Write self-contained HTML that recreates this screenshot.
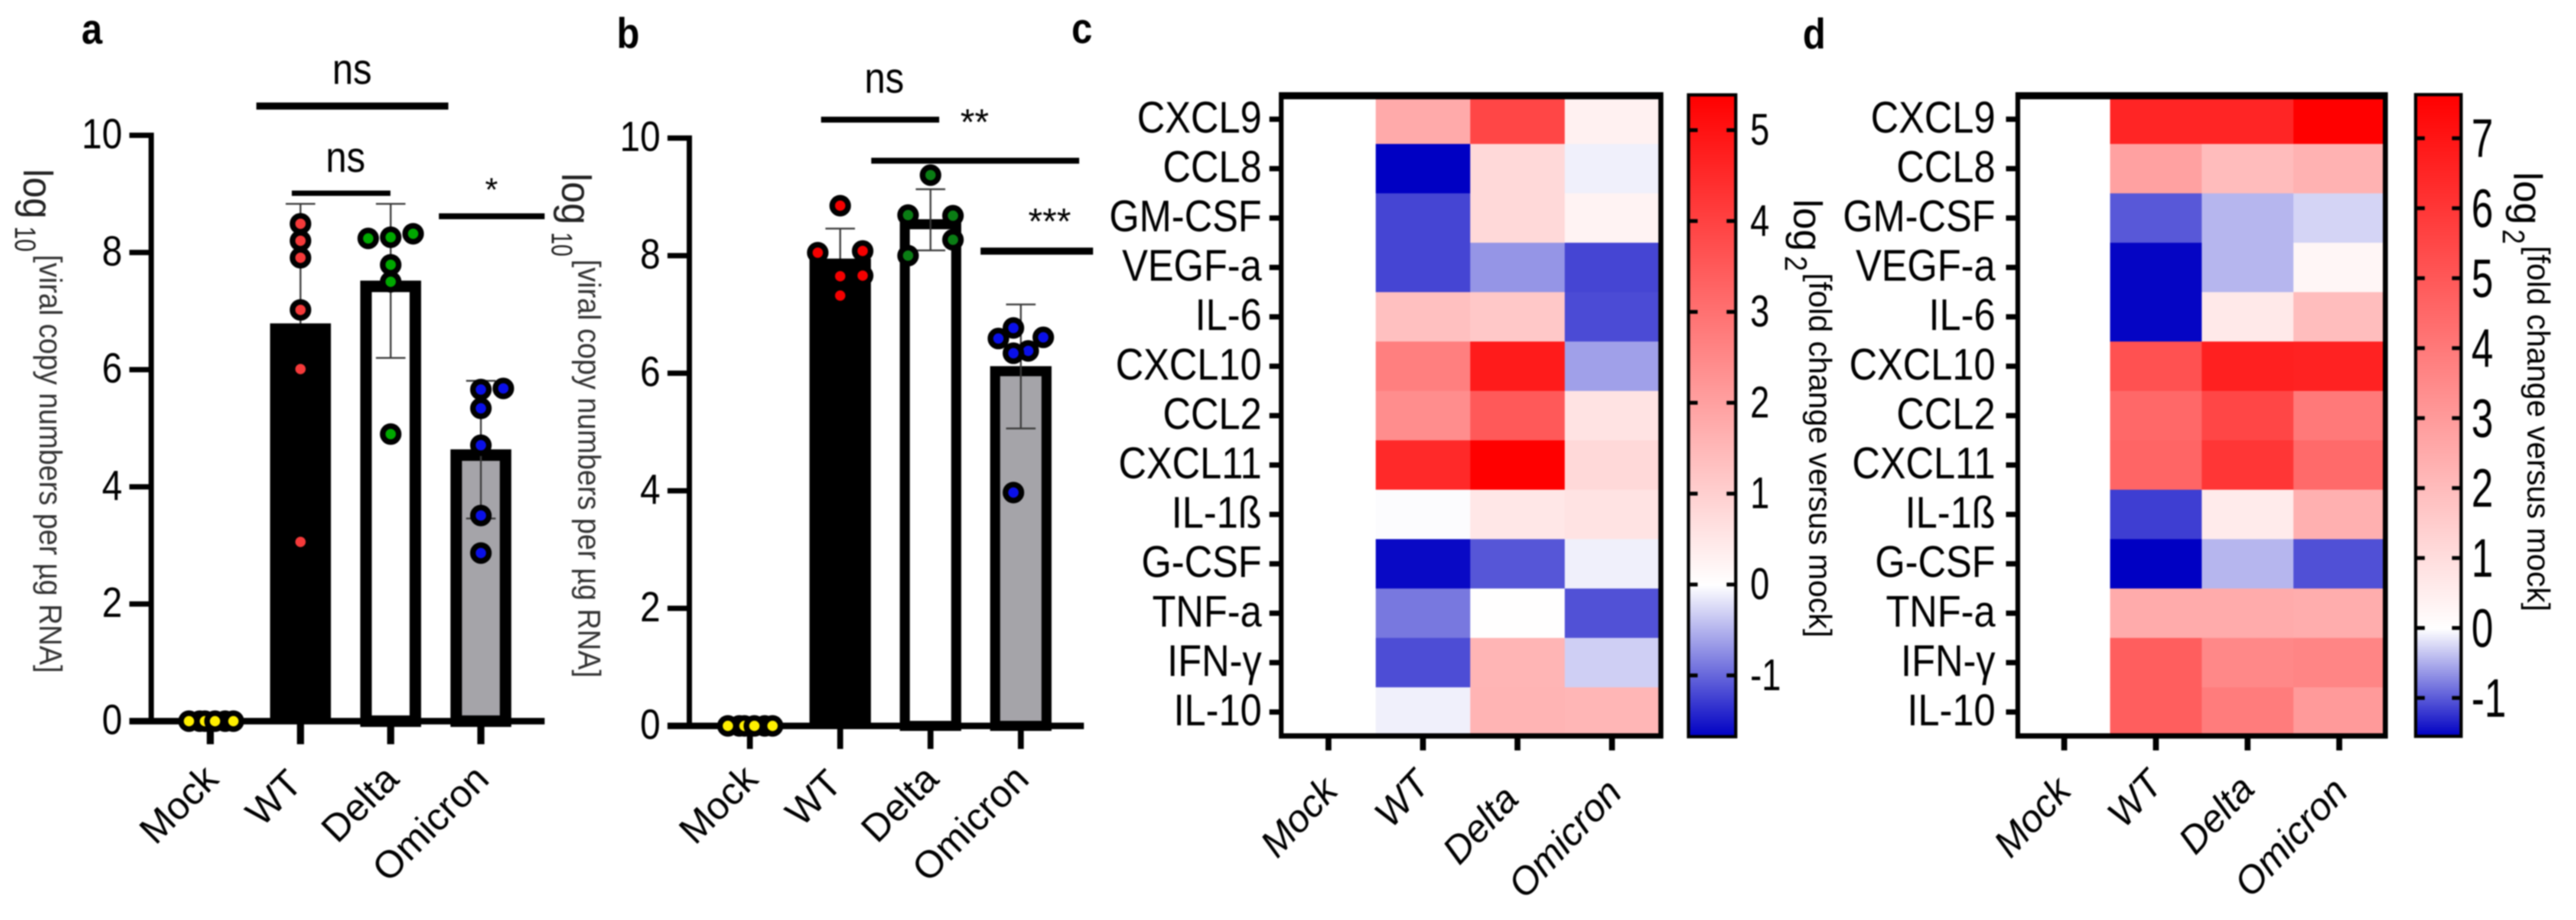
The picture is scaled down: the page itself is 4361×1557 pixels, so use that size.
<!DOCTYPE html>
<html lang="en">
<head>
<meta charset="utf-8">
<title>Viral copy numbers and cytokine heatmaps</title>
<style>
html,body{margin:0;padding:0;background:#fff;}
svg{display:block;font-family:"Liberation Sans",Arial,sans-serif;filter:blur(1px);}
</style>
</head>
<body>
<svg id="figure" xmlns="http://www.w3.org/2000/svg" width="4361" height="1557" viewBox="0 0 4361 1557">
  <rect x="0" y="0" width="4361" height="1557" fill="#fff"/>
  <defs id="gradient-defs"></defs>

  <text transform="translate(138,74) scale(0.88,1)" font-size="72" font-weight="700">a</text>
  <text transform="translate(1044,81) scale(0.88,1)" font-size="72" font-weight="700">b</text>
  <text transform="translate(1814,73) scale(0.88,1)" font-size="72" font-weight="700">c</text>
  <text transform="translate(3052,82) scale(0.88,1)" font-size="72" font-weight="700">d</text>

  <g id="panel-a"></g>
  <g id="panel-b"></g>
  <g id="panel-c"></g>
  <g id="panel-d"></g>

  <g fill="#222">
    <text transform="translate(40,286) rotate(90)" font-size="70" textLength="84" lengthAdjust="spacingAndGlyphs">log</text>
    <text transform="translate(25.5,383) rotate(90)" font-size="50" textLength="43" lengthAdjust="spacingAndGlyphs">10</text>
    <text transform="translate(67,431) rotate(90)" font-size="54" textLength="708" lengthAdjust="spacingAndGlyphs" fill="#333">[viral copy numbers per µg RNA]</text>
  </g>
  <g fill="#222">
    <text transform="translate(951.5,293) rotate(90)" font-size="70" textLength="87" lengthAdjust="spacingAndGlyphs">log</text>
    <text transform="translate(934,393) rotate(90)" font-size="50" textLength="41" lengthAdjust="spacingAndGlyphs">10</text>
    <text transform="translate(979,439) rotate(90)" font-size="54" textLength="708" lengthAdjust="spacingAndGlyphs" fill="#333">[viral copy numbers per µg RNA]</text>
  </g>
  <g fill="#000">
    <text transform="translate(3037,337) rotate(90)" font-size="68" textLength="88" lengthAdjust="spacingAndGlyphs">log</text>
    <text transform="translate(3022,433) rotate(90)" font-size="53" textLength="26" lengthAdjust="spacingAndGlyphs">2</text>
    <text transform="translate(3063,462) rotate(90)" font-size="54" textLength="617" lengthAdjust="spacingAndGlyphs">[fold change versus mock]</text>
  </g>
  <g fill="#000">
    <text transform="translate(4256,291) rotate(90)" font-size="68" textLength="89" lengthAdjust="spacingAndGlyphs">log</text>
    <text transform="translate(4237,388) rotate(90)" font-size="53" textLength="25" lengthAdjust="spacingAndGlyphs">2</text>
    <text transform="translate(4279,416) rotate(90)" font-size="54" textLength="619" lengthAdjust="spacingAndGlyphs">[fold change versus mock]</text>
  </g>

  <g>
    <rect x="434" y="173.5" width="325" height="12"/>
    <text transform="translate(596,142) scale(0.87,1)" font-size="73" text-anchor="middle">ns</text>
    <rect x="494" y="322.5" width="167" height="9"/>
    <text transform="translate(585,291) scale(0.87,1)" font-size="73" text-anchor="middle">ns</text>
    <rect x="743" y="361" width="179" height="10"/>
    <text x="832" y="340" font-size="56" text-anchor="middle">*</text>
  </g>
  <g>
    <rect x="1390" y="197.5" width="200" height="10"/>
    <text transform="translate(1497,157) scale(0.87,1)" font-size="73" text-anchor="middle">ns</text>
    <text x="1650" y="228" font-size="62" text-anchor="middle">**</text>
    <rect x="1475" y="267" width="352" height="10"/>
    <text x="1777" y="396" font-size="62" text-anchor="middle">***</text>
    <rect x="1660" y="419" width="190.5" height="12"/>
  </g>
</svg>

<script>
// ---- shared categories ----
const barCategories = ['Mock', 'WT', 'Delta', 'Omicron'];
const barTickLabels = [0, 2, 4, 6, 8, 10];
const cytokines = ['CXCL9','CCL8','GM-CSF','VEGF-a','IL-6','CXCL10','CCL2','CXCL11','IL-1ß','G-CSF','TNF-a','IFN-γ','IL-10'];

// ---- panel a values ----
const aMeans = [0, 6.79, 7.52, 4.64];
const aErrHigh = [0, 8.83, 8.83, 5.81];
const aErrLow = [0, 4.75, 6.2, 3.46];
const aMock = [0, 0, 0, 0, 0, 0];
const aWT = [8.49, 8.2, 7.91, 7.02, 6.01, 3.06];
const aDelta = [8.24, 8.26, 8.32, 7.79, 7.5, 4.9];
const aOmicron = [5.66, 5.68, 5.34, 4.71, 3.51, 2.87];
const aMockLanes = [-0.47, 0.66, -0.95, -0.24, 1.03, 0.21];
const aWTLanes = [0, 0, 0, 0, 0, 0];
const aDeltaLanes = [-1, 0, 1, 0, 0, 0];
const aOmicronLanes = [0, 1, 0, 0, 0, 0];

// ---- panel b values ----
const bMeans = [0, 7.95, 8.62, 6.12];
const bErrHigh = [0, 8.46, 9.13, 7.17];
const bErrLow = [0, 7.44, 8.09, 5.06];
const bMock = [0, 0, 0, 0, 0, 0];
const bWT = [8.85, 8.05, 8.08, 7.65, 7.66, 7.32];
const bDelta = [9.37, 8.69, 8.68, 8.27, 8.0];
const bOmicron = [6.77, 6.59, 6.61, 6.38, 6.34, 3.97];
const bMockLanes = [-0.47, 0.66, -0.98, -0.24, 1.01, 0.2];
const bWTLanes = [0, -1, 1, 0, 1, 0];
const bDeltaLanes = [0, -1, 1, 1, -1];
const bOmicronLanes = [-0.33, -1, 1, 0.33, -0.33, -0.33];

// ---- panel c heatmap values, one array per condition ----
const cMock = [0,0,0,0,0,0,0,0,0,0,0,0,0];
const cWT = [1.8,-1.66,-1.21,-1.21,1.33,2.7,2.4,4.5,-0.02,-1.6,-0.88,-1.16,-0.1];
const cDelta = [3.9,0.8,0.8,-0.69,1.15,4.8,3.5,5.37,0.5,-1.1,0.02,1.55,1.57];
const cOmicron = [0.3,-0.1,0.25,-1.21,-1.17,-0.62,0.6,0.8,0.6,-0.1,-1.13,-0.31,1.53];
const cColorbarTicks = [-1, 0, 1, 2, 3, 4, 5];

// ---- panel d heatmap values, one array per condition ----
const dMock = [0,0,0,0,0,0,0,0,0,0,0,0,0];
const dWT = [6.5,2.8,-1.0,-1.5,-1.5,5.2,4.5,4.6,-1.16,-1.53,2.5,4.8,4.8];
const dDelta = [6.5,2.0,-0.44,-0.44,0.65,6.65,5.5,6.0,0.6,-0.44,2.5,3.55,3.9];
const dOmicron = [7.6,2.3,-0.26,0.26,1.96,6.6,4.0,4.45,2.35,-1.05,2.45,3.65,3.0];
const dColorbarTicks = [-1, 0, 1, 2, 3, 4, 5, 6, 7];

const NS = 'http://www.w3.org/2000/svg';
const LANE_WIDTH = 38;

function make(tag, attrs, parent, text) {
  const el = document.createElementNS(NS, tag);
  for (const k in attrs) el.setAttribute(k, attrs[k]);
  if (text !== undefined) el.textContent = text;
  parent.appendChild(el);
  return el;
}

function slug(s) {
  return String(s).toLowerCase().replace(/[^a-z0-9]+/g, '-');
}

function drawBarPanel(cfg) {
  const root = document.getElementById(cfg.id);
  const y = v => cfg.y0 - v * cfg.unit;
  const x = i => cfg.x0 + i * cfg.step;

  function drawError(i) {
    const cx = x(i);
    const g = make('g', {stroke: '#3a3a3a', 'stroke-width': 3}, root);
    
    
    make('line', {x1: cx, x2: cx, y1: y(cfg.errHigh[i]), y2: y(cfg.errLow[i])}, g);
    make('line', {x1: cx - 25, x2: cx + 25, y1: y(cfg.errHigh[i]), y2: y(cfg.errHigh[i])}, g);
    make('line', {x1: cx - 25, x2: cx + 25, y1: y(cfg.errLow[i]), y2: y(cfg.errLow[i])}, g);
  }

  // the solid WT bar hides the lower half of its own error bar
  drawError(1);

  // bars
  cfg.means.forEach((m, i) => {
    if (i === 0) return;
    const top = y(m);
    const s = i === 1 ? 0 : cfg.barStroke;
    const rect = make('rect', {
      x: x(i) - cfg.barWidth / 2 + s / 2, y: top + s / 2,
      width: cfg.barWidth - s, height: cfg.y0 - top - s / 2,
      fill: cfg.barFills[i], stroke: '#000', 'stroke-width': s
    }, root);
    
    
  });

  drawError(2);
  drawError(3);

  // axes
  const axis = make('g', {fill: '#000'}, root);
  
  
  make('rect', {x: cfg.axisX - 4.5, y: y(10) - 4.5, width: 9, height: cfg.y0 - y(10) + 4.5}, axis);
  make('rect', {x: cfg.axisX - 37, y: cfg.y0 - 5.5, width: cfg.axisEnd - cfg.axisX + 37, height: 11}, axis);

  barTickLabels.forEach(t => {
    const tick = make('rect', {x: cfg.axisX - 37, y: y(t) - 4.5, width: 33, height: 9}, axis);
    
    
    const label = make('text', {
      transform: 'translate(' + (cfg.axisX - 49) + ',' + (y(t) + 22) + ') scale(0.87,1)',
      'font-size': 71, 'text-anchor': 'end'
    }, root, t);
    
    
  });

  barCategories.forEach((c, i) => {
    const tick = make('rect', {x: x(i) - cfg.tickW / 2, y: cfg.y0, width: cfg.tickW, height: 39}, axis);
    
    
    const labelX = x(i) + (c === 'WT' ? 6 : 17);
    const labelY = c === 'WT' ? 1330 : 1322;
    const label = make('text', {
      transform: 'translate(' + labelX + ',' + labelY + ') rotate(-45)',
      'font-size': 65, 'text-anchor': 'end'
    }, root, c);
    
    
  });

  // points
  cfg.points.forEach((vals, i) => {
    vals.forEach((v, j) => {
      const pt = make('circle', {
        cx: x(i) + cfg.lanes[i][j] * LANE_WIDTH, cy: y(v), r: 13.5,
        fill: cfg.pointFills[i], stroke: '#000', 'stroke-width': 9.5
      }, root);
      
      
    });
  });
}

function heatColor(v, min, max) {
  let r, g, b;
  if (v >= 0) {
    const a = Math.min(v / max, 1);
    r = 255; g = b = Math.round(255 * (1 - a));
  } else {
    const t = Math.min(v / min, 1);
    r = g = Math.round(255 * (1 - t));
    b = Math.round(255 - 60 * t);
  }
  return 'rgb(' + r + ',' + g + ',' + b + ')';
}

function drawHeatPanel(cfg) {
  const root = document.getElementById(cfg.id);
  const rowY = r => 160 + r * 83.6;
  const colX = c => cfg.left + c * cfg.colW;
  const barY = v => cfg.cb0 - v * cfg.cbUnit;

  // cells
  cfg.columns.forEach((col, c) => {
    col.forEach((v, r) => {
      const cell = make('rect', {
        x: colX(c), y: rowY(r), width: cfg.colW + 0.5, height: 84,
        fill: heatColor(v, cfg.min, cfg.max)
      }, root);
      
      
    });
  });

  // frame
  const frame = make('g', {fill: '#000'}, root);
  
  
  const fw = cfg.frameR - cfg.frameL;
  make('rect', {x: cfg.frameL, y: 156, width: fw, height: 12}, frame);
  make('rect', {x: cfg.frameL, y: 1241, width: fw, height: 9}, frame);
  make('rect', {x: cfg.frameL, y: 156, width: 8, height: 1094}, frame);
  make('rect', {x: cfg.frameR - 8.5, y: 156, width: 8.5, height: 1094}, frame);

  // y ticks and labels
  cytokines.forEach((name, r) => {
    const cy = rowY(r) + 41.8;
    const tick = make('rect', {x: cfg.frameL - 16, y: cy - 4.5, width: 16, height: 9}, root);
    
    
    const label = make('text', {
      transform: 'translate(' + cfg.labelR + ',' + (cy + 22.5) + ') scale(0.873,1)',
      'font-size': 75, 'text-anchor': 'end'
    }, root, name);
    
    
  });

  // x ticks and labels
  barCategories.forEach((name, c) => {
    const cx = colX(c) + cfg.colW / 2;
    const tick = make('rect', {x: cx - 5, y: 1250, width: 10, height: 20}, root);
    
    
    const labelX = cx + 15 + cfg.labelNudgeX[c];
    const labelY = 1338 + cfg.labelNudgeY[c];
    const label = make('text', {
      transform: 'translate(' + labelX + ',' + labelY + ') rotate(-47)',
      'font-size': 65, 'font-style': 'italic', 'text-anchor': 'end'
    }, root, name);
    
    
  });

  // colorbar gradient
  const defs = document.getElementById('gradient-defs');
  const grad = make('linearGradient', {id: 'grad-' + cfg.key, x1: 0, y1: 0, x2: 0, y2: 1}, defs);
  const zeroAt = cfg.max / (cfg.max - cfg.min);
  make('stop', {offset: 0, 'stop-color': heatColor(cfg.max, cfg.min, cfg.max)}, grad);
  make('stop', {offset: zeroAt, 'stop-color': '#fff'}, grad);
  make('stop', {offset: 1, 'stop-color': heatColor(cfg.min, cfg.min, cfg.max)}, grad);

  const top = barY(cfg.max), bottom = barY(cfg.min);
  const bar = make('rect', {
    x: cfg.cbL + 2.5, y: top - 2.5, width: cfg.cbW - 5, height: bottom - top + 5,
    fill: 'url(#grad-' + cfg.key + ')', stroke: '#000', 'stroke-width': 5.5
  }, root);
  
  

  cfg.cbTicks.forEach(t => {
    const ty = barY(t);
    const g = make('g', {fill: '#000'}, root);
    
    
    make('rect', {x: cfg.cbL + 5, y: ty - 3, width: 13, height: 6.5}, g);
    make('rect', {x: cfg.cbL + cfg.cbW - 18, y: ty - 3, width: 13, height: 6.5}, g);
    const label = make('text', {
      transform: 'translate(' + cfg.cbLabelX + ',' + (ty + cfg.cbLabelDy) + ') scale(' + cfg.cbLabelSx + ',1)',
      'font-size': cfg.cbLabelSize
    }, root, t);
    
    
  });
}

drawBarPanel({
  id: 'panel-a', key: 'a', y0: 1220.5, unit: 99.15, x0: 356, step: 152.7,
  axisX: 256, axisEnd: 922, barWidth: 103, barStroke: 19.5, tickW: 12,
  barFills: ['none', '#000', '#fff', '#a5a4a9'],
  pointFills: ['#ffef00', '#f53a3a', '#00a800', '#0a10e8'],
  means: aMeans, errHigh: aErrHigh, errLow: aErrLow,
  points: [aMock, aWT, aDelta, aOmicron],
  lanes: [aMockLanes, aWTLanes, aDeltaLanes, aOmicronLanes]
});

drawBarPanel({
  id: 'panel-b', key: 'b', y0: 1228.5, unit: 99.48, x0: 1269.5, step: 152.9,
  axisX: 1167, axisEnd: 1835, barWidth: 104, barStroke: 17, tickW: 10,
  barFills: ['none', '#000', '#fff', '#a5a4a9'],
  pointFills: ['#ffef00', '#f50000', '#0a7d14', '#0a10e8'],
  means: bMeans, errHigh: bErrHigh, errLow: bErrLow,
  points: [bMock, bWT, bDelta, bOmicron],
  lanes: [bMockLanes, bWTLanes, bDeltaLanes, bOmicronLanes]
});

drawHeatPanel({
  id: 'panel-c', key: 'c', left: 2169, colW: 160, frameL: 2165, frameR: 2816, labelR: 2136,
  columns: [cMock, cWT, cDelta, cOmicron], min: -1.66, max: 5.37,
  labelNudgeX: [4, 0, -10, 5], labelNudgeY: [3, -8, 17, 6],
  cb0: 989, cbUnit: 153.8, cbL: 2856, cbW: 85, cbTicks: cColorbarTicks,
  cbLabelX: 2963, cbLabelDy: 25, cbLabelSx: 0.78, cbLabelSize: 75
});

drawHeatPanel({
  id: 'panel-d', key: 'd', left: 3417, colW: 155.2, frameL: 3412, frameR: 4042.5, labelR: 3378,
  columns: [dMock, dWT, dDelta, dOmicron], min: -1.53, max: 7.6,
  labelNudgeX: [0, 0, 0, 3], labelNudgeY: [3, -8, 0, 4],
  cb0: 1062.5, cbUnit: 118.4, cbL: 4087, cbW: 82, cbTicks: dColorbarTicks,
  cbLabelX: 4184, cbLabelDy: 32, cbLabelSx: 0.72, cbLabelSize: 92
});
</script>
</body>
</html>
